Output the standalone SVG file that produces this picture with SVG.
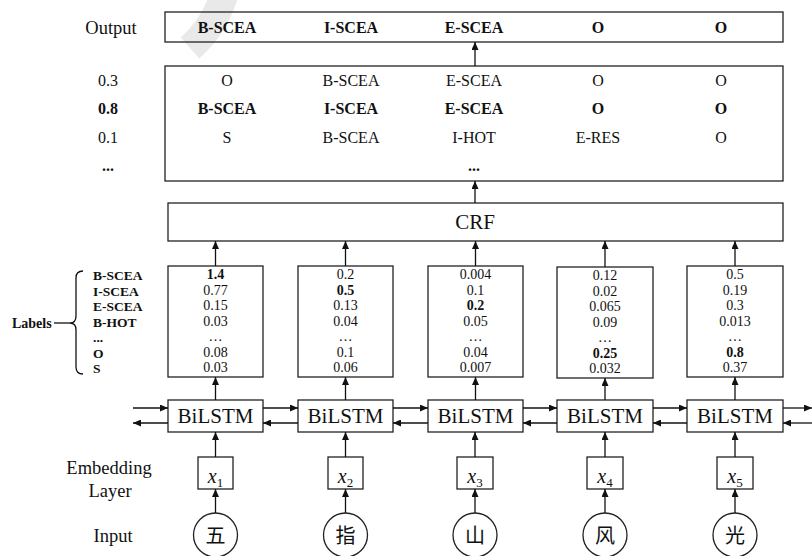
<svg xmlns="http://www.w3.org/2000/svg" width="812" height="556" viewBox="0 0 812 556">
<style>
text{font-family:"Liberation Serif","Times New Roman",serif;fill:#111}
.box{fill:none;stroke:#222;stroke-width:1.3}
.lbl{font-size:18.5px;text-anchor:middle}
.row{font-size:16px;text-anchor:middle}
.b{font-weight:bold}
.sc{font-size:14px;text-anchor:middle}
.lab{font-size:13.5px;font-weight:bold}
.big{font-size:21px;text-anchor:middle}
.emb{font-size:20px;font-style:italic;text-anchor:middle}
.sub{font-size:13px;font-style:normal}
.cjk{font-family:"Noto Sans CJK SC","Noto Sans CJK JP",sans-serif;font-size:20px;text-anchor:middle}
.ln{stroke:#111;stroke-width:1.3;fill:none}
.ar{stroke:#111;stroke-width:1.3;fill:none;marker-end:url(#ah)}
</style>
<defs>
<marker id="ah" markerUnits="userSpaceOnUse" markerWidth="9" markerHeight="7" refX="8" refY="3.5" orient="auto">
<path d="M0,0 L8,3.5 L0,7 z" fill="#111"/>
</marker>
</defs>
<rect width="812" height="556" fill="#fff"/>
<path d="M226,-12 Q217,24 190,48" stroke="#e9e9e9" stroke-width="28" fill="none"/>

<g id="output">
<text class="lbl" x="111" y="34">Output</text>
<rect class="box" x="165" y="12" width="618" height="30"/>
<text class="row b" x="227" y="33">B-SCEA</text>
<text class="row b" x="351" y="33">I-SCEA</text>
<text class="row b" x="474" y="33">E-SCEA</text>
<text class="row b" x="598" y="33">O</text>
<text class="row b" x="721" y="33">O</text>
</g>

<g id="paths">
<rect class="box" x="165" y="66" width="618" height="115"/>
<text class="row" x="108" y="86">0.3</text>
<text class="row" x="227" y="86">O</text>
<text class="row" x="351" y="86">B-SCEA</text>
<text class="row" x="474" y="86">E-SCEA</text>
<text class="row" x="598" y="86">O</text>
<text class="row" x="721" y="86">O</text>
<text class="row b" x="108" y="114">0.8</text>
<text class="row b" x="227" y="114">B-SCEA</text>
<text class="row b" x="351" y="114">I-SCEA</text>
<text class="row b" x="474" y="114">E-SCEA</text>
<text class="row b" x="598" y="114">O</text>
<text class="row b" x="721" y="114">O</text>
<text class="row" x="108" y="143">0.1</text>
<text class="row" x="227" y="143">S</text>
<text class="row" x="351" y="143">B-SCEA</text>
<text class="row" x="474" y="143">I-HOT</text>
<text class="row" x="598" y="143">E-RES</text>
<text class="row" x="721" y="143">O</text>
<text class="row b" x="108" y="171">...</text>
<text class="row b" x="474" y="171">...</text>
</g>

<g id="crf">
<rect class="box" x="168" y="203" width="615" height="38"/>
<text class="big" x="475" y="229">CRF</text>
</g>

<g id="labels">
<text class="lab" x="12" y="328" style="font-size:14px">Labels</text>
<path class="ln" d="M54,323 L70,323"/>
<path class="ln" d="M83,271 Q76,271 76,278 L76,316 Q76,323 70,323 Q76,323 76,330 L76,367 Q76,374 83,374"/>
<text class="lab" x="93" y="280">B-SCEA</text>
<text class="lab" x="93" y="295.5">I-SCEA</text>
<text class="lab" x="93" y="311">E-SCEA</text>
<text class="lab" x="93" y="326.5">B-HOT</text>
<text class="lab" x="93" y="342">...</text>
<text class="lab" x="93" y="357.5">O</text>
<text class="lab" x="93" y="373">S</text>
</g>

<g id="score1">
<rect class="box" x="168" y="266" width="95" height="111"/>
<text class="sc b" x="215.5" y="279">1.4</text>
<text class="sc" x="215.5" y="294.5">0.77</text>
<text class="sc" x="215.5" y="310">0.15</text>
<text class="sc" x="215.5" y="325.5">0.03</text>
<text class="sc" x="215.5" y="341">…</text>
<text class="sc" x="215.5" y="356.5">0.08</text>
<text class="sc" x="215.5" y="372">0.03</text>
</g>
<g id="score2">
<rect class="box" x="298" y="266" width="95" height="111"/>
<text class="sc" x="345.5" y="279">0.2</text>
<text class="sc b" x="345.5" y="294.5">0.5</text>
<text class="sc" x="345.5" y="310">0.13</text>
<text class="sc" x="345.5" y="325.5">0.04</text>
<text class="sc" x="345.5" y="341">…</text>
<text class="sc" x="345.5" y="356.5">0.1</text>
<text class="sc" x="345.5" y="372">0.06</text>
</g>
<g id="score3">
<rect class="box" x="428" y="266" width="95" height="111"/>
<text class="sc" x="475.5" y="279">0.004</text>
<text class="sc" x="475.5" y="294.5">0.1</text>
<text class="sc b" x="475.5" y="310">0.2</text>
<text class="sc" x="475.5" y="325.5">0.05</text>
<text class="sc" x="475.5" y="341">…</text>
<text class="sc" x="475.5" y="356.5">0.04</text>
<text class="sc" x="475.5" y="372">0.007</text>
</g>
<g id="score4">
<rect class="box" x="557" y="267" width="96" height="111"/>
<text class="sc" x="605" y="280">0.12</text>
<text class="sc" x="605" y="295.5">0.02</text>
<text class="sc" x="605" y="311">0.065</text>
<text class="sc" x="605" y="326.5">0.09</text>
<text class="sc" x="605" y="342">…</text>
<text class="sc b" x="605" y="357.5">0.25</text>
<text class="sc" x="605" y="373">0.032</text>
</g>
<g id="score5">
<rect class="box" x="687" y="266" width="96" height="111"/>
<text class="sc" x="735" y="279">0.5</text>
<text class="sc" x="735" y="294.5">0.19</text>
<text class="sc" x="735" y="310">0.3</text>
<text class="sc" x="735" y="325.5">0.013</text>
<text class="sc" x="735" y="341">…</text>
<text class="sc b" x="735" y="356.5">0.8</text>
<text class="sc" x="735" y="372">0.37</text>
</g>

<g id="bilstm1"><rect class="box" x="168" y="400" width="95" height="32"/><text class="big" x="215.5" y="423">BiLSTM</text></g>
<g id="bilstm2"><rect class="box" x="298" y="400" width="95" height="32"/><text class="big" x="345.5" y="423">BiLSTM</text></g>
<g id="bilstm3"><rect class="box" x="428" y="400" width="95" height="32"/><text class="big" x="475.5" y="423">BiLSTM</text></g>
<g id="bilstm4"><rect class="box" x="557" y="400" width="96" height="32"/><text class="big" x="605" y="423">BiLSTM</text></g>
<g id="bilstm5"><rect class="box" x="687" y="400" width="96" height="32"/><text class="big" x="735" y="423">BiLSTM</text></g>

<g id="embedding-label">
<text class="lbl" x="109" y="474">Embedding</text>
<text class="lbl" x="110" y="497">Layer</text>
</g>
<g id="input-label"><text class="lbl" x="113" y="542">Input</text></g>

<g id="x1"><rect class="box" x="198" y="457" width="35" height="32"/><text class="emb" x="215.5" y="483">x<tspan class="sub" dy="4">1</tspan></text></g>
<g id="x2"><rect class="box" x="328" y="457" width="35" height="32"/><text class="emb" x="345.5" y="483">x<tspan class="sub" dy="4">2</tspan></text></g>
<g id="x3"><rect class="box" x="457" y="457" width="36" height="32"/><text class="emb" x="475" y="483">x<tspan class="sub" dy="4">3</tspan></text></g>
<g id="x4"><rect class="box" x="587" y="457" width="36" height="32"/><text class="emb" x="605" y="483">x<tspan class="sub" dy="4">4</tspan></text></g>
<g id="x5"><rect class="box" x="717" y="457" width="36" height="32"/><text class="emb" x="735" y="483">x<tspan class="sub" dy="4">5</tspan></text></g>

<g id="in1"><circle class="box" cx="215.5" cy="535" r="22"/><text class="cjk" x="215.5" y="543">五</text></g>
<g id="in2"><circle class="box" cx="345.5" cy="535" r="22"/><text class="cjk" x="345.5" y="543">指</text></g>
<g id="in3"><circle class="box" cx="475" cy="535" r="22"/><text class="cjk" x="475" y="543">山</text></g>
<g id="in4"><circle class="box" cx="605" cy="535" r="22"/><text class="cjk" x="605" y="543">风</text></g>
<g id="in5"><circle class="box" cx="735" cy="535" r="22"/><text class="cjk" x="735" y="543">光</text></g>

<g id="connectors">
<line class="ar" x1="475" y1="66" x2="475" y2="42"/>
<line class="ar" x1="475" y1="203" x2="475" y2="181"/>
<line class="ar" x1="215.5" y1="266" x2="215.5" y2="241"/>
<line class="ar" x1="345.5" y1="266" x2="345.5" y2="241"/>
<line class="ar" x1="475.5" y1="266" x2="475.5" y2="241"/>
<line class="ar" x1="605" y1="267" x2="605" y2="241"/>
<line class="ar" x1="735" y1="266" x2="735" y2="241"/>
<line class="ar" x1="215.5" y1="400" x2="215.5" y2="377"/>
<line class="ar" x1="345.5" y1="400" x2="345.5" y2="377"/>
<line class="ar" x1="475.5" y1="400" x2="475.5" y2="377"/>
<line class="ar" x1="605" y1="400" x2="605" y2="378"/>
<line class="ar" x1="735" y1="400" x2="735" y2="377"/>
<line class="ar" x1="215.5" y1="457" x2="215.5" y2="432"/>
<line class="ar" x1="345.5" y1="457" x2="345.5" y2="432"/>
<line class="ar" x1="475" y1="457" x2="475" y2="432"/>
<line class="ar" x1="605" y1="457" x2="605" y2="432"/>
<line class="ar" x1="735" y1="457" x2="735" y2="432"/>
<line class="ar" x1="215.5" y1="513" x2="215.5" y2="489"/>
<line class="ar" x1="345.5" y1="513" x2="345.5" y2="489"/>
<line class="ar" x1="475" y1="513" x2="475" y2="489"/>
<line class="ar" x1="605" y1="513" x2="605" y2="489"/>
<line class="ar" x1="735" y1="513" x2="735" y2="489"/>
<line class="ar" x1="133" y1="408" x2="168" y2="408"/>
<line class="ar" x1="263" y1="408" x2="298" y2="408"/>
<line class="ar" x1="393" y1="408" x2="428" y2="408"/>
<line class="ar" x1="523" y1="408" x2="557" y2="408"/>
<line class="ar" x1="653" y1="408" x2="687" y2="408"/>
<line class="ar" x1="783" y1="408" x2="812" y2="408"/>
<line class="ar" x1="168" y1="423" x2="133" y2="423"/>
<line class="ar" x1="298" y1="423" x2="263" y2="423"/>
<line class="ar" x1="428" y1="423" x2="393" y2="423"/>
<line class="ar" x1="557" y1="423" x2="523" y2="423"/>
<line class="ar" x1="687" y1="423" x2="653" y2="423"/>
<line class="ar" x1="812" y1="423" x2="783" y2="423"/>
</g>
</svg>
